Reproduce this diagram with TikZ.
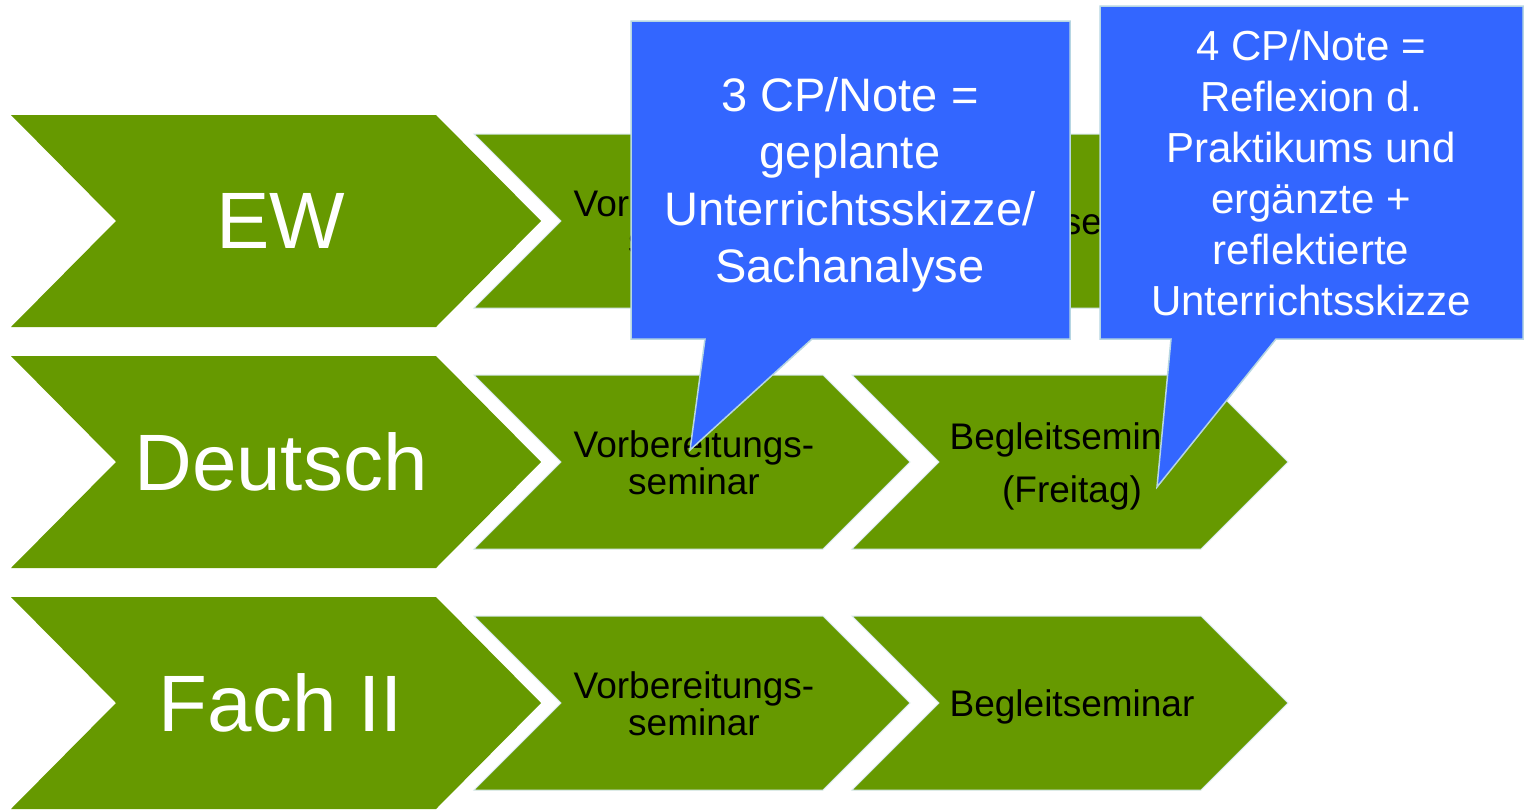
\documentclass[tikz,border=0pt]{standalone}
\usepackage{fontspec}
\setmainfont{Liberation Sans}
\definecolor{leaf}{RGB}{102,153,0}
\definecolor{callblue}{RGB}{51,102,255}
\definecolor{callrim}{RGB}{182,214,226}
\definecolor{chevrim}{RGB}{214,232,236}
\tikzset{
  bigchev/.style={fill=leaf},
  smallchev/.style={fill=leaf, draw=chevrim, line width=1pt},
  biglabel/.style={text=white, inner sep=0pt, font=\fontsize{80}{80}\selectfont},
  steplabel/.style={text=black, inner sep=0pt, align=center, font=\fontsize{37}{37}\selectfont},
  bubble/.style={fill=callblue, draw=callrim, line width=1.5pt, line join=miter},
  bubbletext/.style={text=white, inner sep=0pt, align=center}
}
\begin{document}
\begin{tikzpicture}[x=1pt,y=-1pt]
\useasboundingbox (0,0) rectangle (1528,809);
\fill[white] (0,0) rectangle (1528,809);

% three rows: subject chevron followed by two seminar chevrons
\foreach \m/\nm/\lab in {221/ew/EW, 462/de/Deutsch, 703/fz/Fach II}{
  \path[bigchev] (11,{\m-106}) -- (436,{\m-106}) -- (541,\m) -- (436,{\m+106})
        -- (11,{\m+106}) -- (116,\m) -- cycle;
  \path[smallchev] (474,{\m-87}) -- (823,{\m-87}) -- (910,\m) -- (823,{\m+87})
        -- (474,{\m+87}) -- (561,\m) -- cycle;
  \path[smallchev] (852,{\m-87}) -- (1201,{\m-87}) -- (1288,\m) -- (1201,{\m+87})
        -- (852,{\m+87}) -- (939,\m) -- cycle;
  \node[biglabel] (\nm-subj) at (281,\m) {\lab};
  \node[steplabel] (\nm-prep) at (694,{\m+1}) {Vorbereitungs-\\seminar};
}

\node[steplabel] (ew-beg) at (1072,225) {Begleitseminar};
\node[steplabel, font=\fontsize{37}{53}\selectfont] (de-beg) at (1072,466) {Begleitseminar\\(Freitag)};
\node[steplabel] (fz-beg) at (1072,707) {Begleitseminar};

% speech bubbles with the credit points
\path[bubble] (631,21) -- (1070,21) -- (1070,339) -- (812,339) -- (690,450)
      -- (705,339) -- (631,339) -- cycle;
\node[bubbletext, font=\fontsize{47}{57}\selectfont] (note-prep) at (850,185)
  {3 CP/Note =\\geplante\\Unterrichtsskizze/\\Sachanalyse};

\path[bubble] (1100,6) -- (1523,6) -- (1523,339) -- (1276,339) -- (1157,487)
      -- (1171,339) -- (1100,339) -- cycle;
\node[bubbletext, font=\fontsize{42}{51}\selectfont] (note-beg) at (1311,173)
  {4 CP/Note =\\Reflexion d.\\Praktikums und\\ergänzte +\\reflektierte\\Unterrichtsskizze};
\end{tikzpicture}
\end{document}
